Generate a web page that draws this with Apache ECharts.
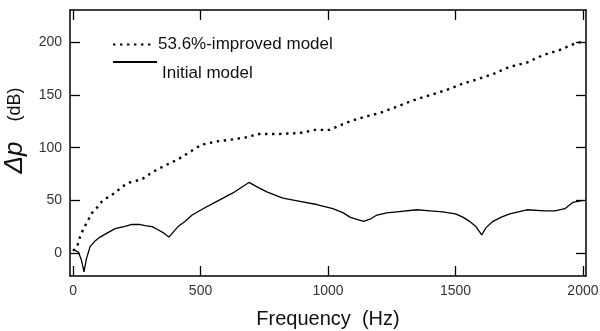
<!DOCTYPE html>
<html>
<head>
<meta charset="utf-8">
<script src="https://cdn.jsdelivr.net/npm/echarts@6/dist/echarts.min.js"></script>
<style>
  html, body { margin: 0; padding: 0; background: #fff; }
  #chart { width: 600px; height: 331px; }
</style>
</head>
<body>
<div id="chart"></div>
<script>
// frequency (Hz) / delta p (dB)
var improvedFreq = [0, 16, 27, 39, 59, 74, 94, 114, 137, 165, 192, 223, 270, 313, 360, 412, 458, 505, 564, 627, 682, 725, 800, 890, 949, 1007, 1035, 1074, 1137, 1203, 1270, 1333, 1400, 1466, 1529, 1584, 1647, 1713, 1780, 1843, 1909, 1968, 2000];
var improvedVal  = [2, 6, 15, 22, 31, 38, 43, 49, 53, 57, 63, 67, 70, 77, 83, 89, 96, 103, 106, 108, 110, 113, 113, 114, 117, 117, 120, 124, 129, 133, 139, 145, 150, 155, 161, 165, 170, 177, 181, 188, 193, 199, 201];

var initialFreq = [0, 20, 32, 43, 52, 67, 85, 106, 135, 165, 200, 231, 260, 282, 310, 333, 355, 376, 390, 412, 440, 467, 510, 564, 627, 690, 720, 760, 823, 890, 956, 1019, 1060, 1086, 1110, 1140, 1165, 1192, 1230, 1270, 1348, 1400, 1450, 1500, 1529, 1555, 1580, 1603, 1620, 1647, 1680, 1713, 1780, 1850, 1890, 1929, 1960, 2000];
var initialVal  = [3, 1, -6, -18, -6, 6, 11, 15, 19, 23, 25, 27, 27, 26, 25, 22, 19, 15, 19, 25, 30, 36, 42, 49, 57, 67, 63, 58, 52, 49, 46, 42, 38, 34, 32, 30, 32, 36, 38, 39, 41, 40, 39, 37, 34, 30, 25, 17, 24, 30, 34, 37, 41, 40, 40, 42, 48, 50];

var xTicks = [0, 500, 1000, 1500, 2000];
var yTicks = [0, 50, 100, 150, 200];

var seriesNames = ['53.6%-improved model', 'Initial model'];

function pairs(xs, ys) {
  return xs.map(function (x, i) { return [x, ys[i]]; });
}

var chart = echarts.init(document.getElementById('chart'));

var font = 'Liberation Sans, Arial, sans-serif';

function plain(v) { return String(v); }

function xAxisBase(pos, showLabel) {
  return {
    type: 'value',
    position: pos,
    min: -12,
    max: 2012,
    axisLine: { show: true, onZero: false, lineStyle: { color: '#000', width: 1.5 } },
    axisTick: { show: true, inside: true, length: 10, customValues: xTicks, lineStyle: { color: '#000', width: 1.3 } },
    axisLabel: { show: showLabel, customValues: xTicks, formatter: plain, color: '#333', fontSize: 14, fontFamily: font, margin: 8 },
    splitLine: { show: false }
  };
}

function yAxisBase(pos, showLabel) {
  return {
    type: 'value',
    position: pos,
    min: -22,
    max: 231,
    axisLine: { show: true, onZero: false, lineStyle: { color: '#000', width: 1.5 } },
    axisTick: { show: true, inside: true, length: 10, customValues: yTicks, lineStyle: { color: '#000', width: 1.3 } },
    axisLabel: { show: showLabel, customValues: yTicks, formatter: plain, color: '#333', fontSize: 14, fontFamily: font, margin: 8 },
    splitLine: { show: false }
  };
}

var xBottom = xAxisBase('bottom', true);
xBottom.name = 'Frequency  (Hz)';
xBottom.nameLocation = 'middle';
xBottom.nameGap = 33;
xBottom.nameTextStyle = { color: '#111', fontSize: 20, fontFamily: font };

var yLeft = yAxisBase('left', true);
// leading blank pushes the visible title a little above the plot centre
yLeft.name = '{b|     }{a|\u0394p}{b|    (dB)}';
yLeft.nameLocation = 'middle';
yLeft.nameGap = 30;
yLeft.nameTextStyle = {
  rich: {
    a: { fontSize: 26, fontStyle: 'italic', fontFamily: font, color: '#111' },
    b: { fontSize: 18, fontFamily: font, color: '#111' }
  }
};

chart.setOption({
  animation: false,
  backgroundColor: '#fff',
  grid: { left: 70, right: 14, top: 10, bottom: 55, outerBoundsMode: 'none' },
  legend: [
    {
      data: [seriesNames[0]],
      left: 107, top: 31,
      itemWidth: 40, itemHeight: 14, itemGap: 6,
      itemStyle: { opacity: 0 },
      textStyle: { fontSize: 17, fontFamily: font, color: '#111' }
    },
    {
      data: [seriesNames[1]],
      left: 107, top: 35,
      itemWidth: 44, itemHeight: 14, itemGap: 6,
      itemStyle: { opacity: 0 },
      formatter: function (n) { return '\n' + n; },
      textStyle: { fontSize: 17, lineHeight: 22, fontFamily: font, color: '#111' }
    }
  ],
  xAxis: [xBottom, xAxisBase('top', false)],
  yAxis: [yLeft, yAxisBase('right', false)],
  series: [
    {
      name: seriesNames[0],
      type: 'line',
      symbol: 'none',
      data: pairs(improvedFreq, improvedVal),
      lineStyle: { color: '#000', width: 2.4, type: [2.4, 4.6] },
      itemStyle: { color: '#000' }
    },
    {
      name: seriesNames[1],
      type: 'line',
      symbol: 'none',
      data: pairs(initialFreq, initialVal),
      lineStyle: { color: '#000', width: 1.3 },
      itemStyle: { color: '#000' }
    }
  ]
});
</script>
</body>
</html>
